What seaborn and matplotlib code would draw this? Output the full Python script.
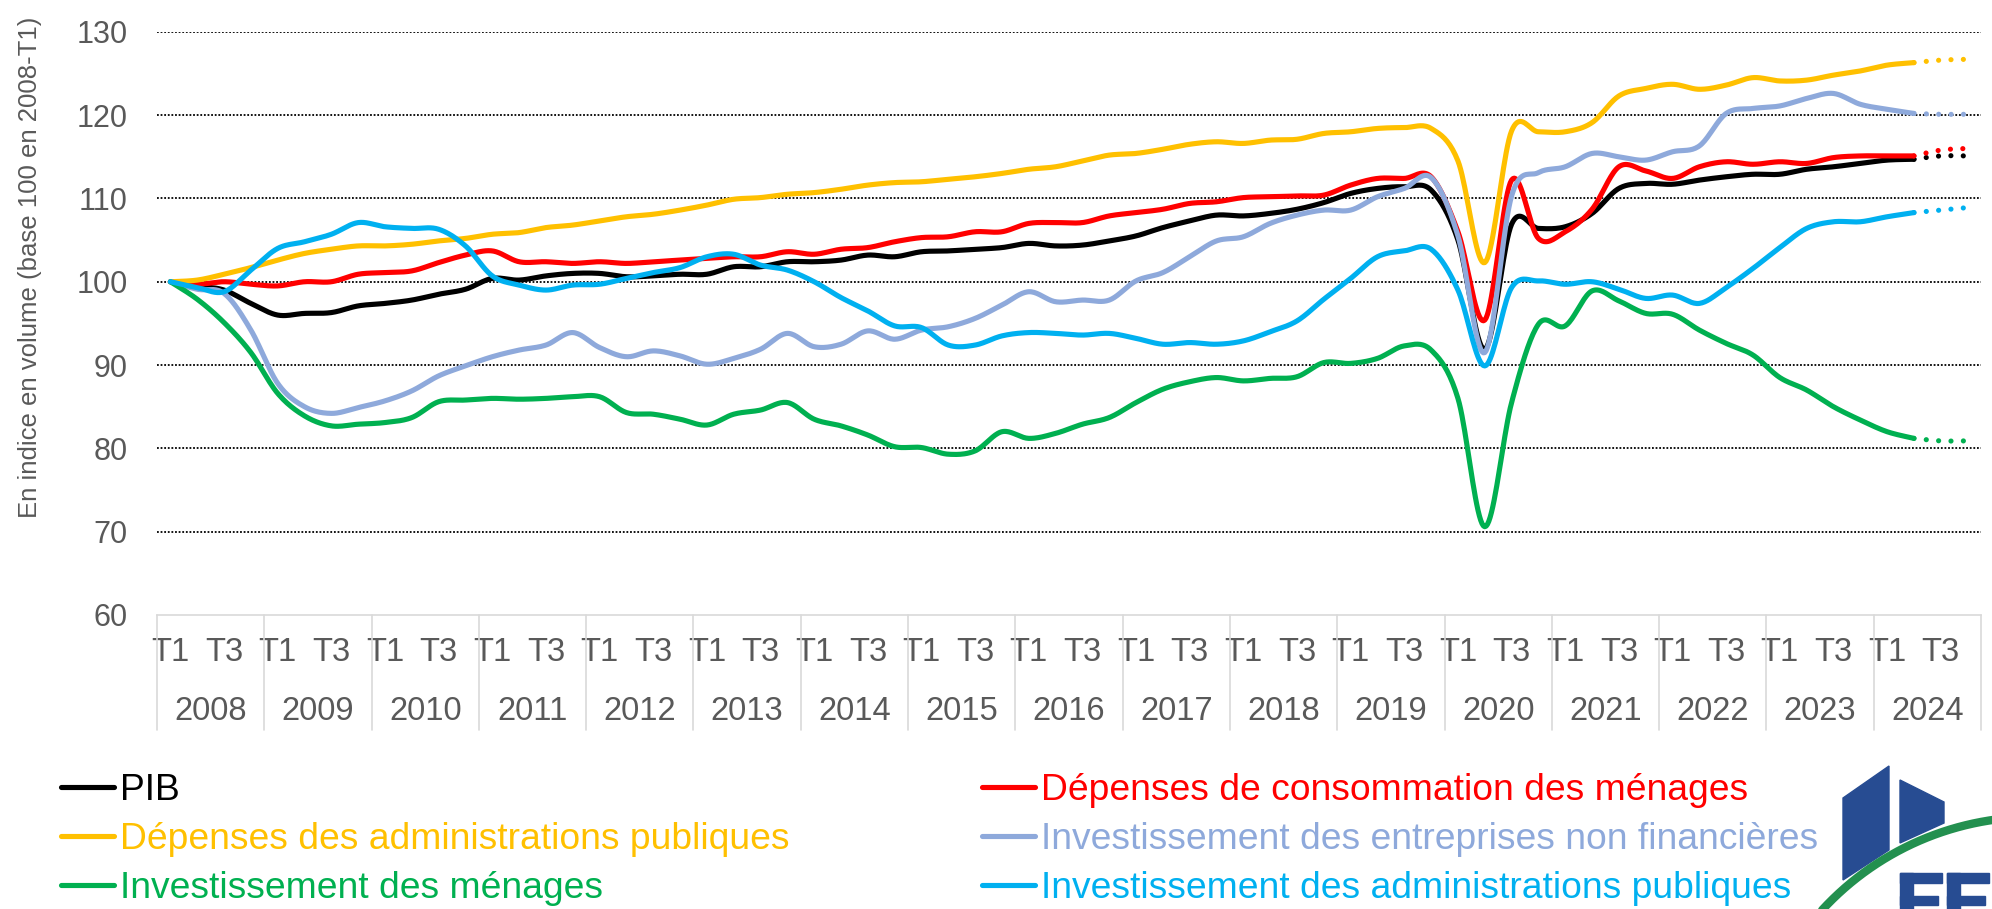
import numpy as np
import pandas as pd
import matplotlib
matplotlib.use("Agg")
import matplotlib.pyplot as plt
from matplotlib.lines import Line2D
from matplotlib.patches import Polygon, Rectangle
import seaborn as sns

# ---------------- data ----------------
years = list(range(2008, 2025))
quarters = ["T1", "T2", "T3", "T4"]
last_observed = 65  # index of 2024-T2 ; T3/T4 are projections (dotted)

pib = [100.0, 99.5, 99.0, 97.4, 96.0, 96.2, 96.3, 97.1, 97.4, 97.8, 98.5, 99.1,
       100.4, 100.2, 100.7, 101.0, 101.0, 100.6, 100.7, 100.9, 100.9, 101.8, 101.8, 102.4,
       102.4, 102.6, 103.2, 103.0, 103.6, 103.7, 103.9, 104.1, 104.6, 104.3, 104.4, 104.9,
       105.5, 106.5, 107.3, 108.0, 107.9, 108.2, 108.7, 109.5, 110.6, 111.2, 111.4, 111.0,
       105.0, 91.9, 106.9, 106.4, 106.6, 108.2, 111.2, 111.8, 111.7, 112.2, 112.6, 112.9,
       112.9, 113.5, 113.8, 114.2, 114.6, 114.7, 115.1, 115.1]
conso_menages = [100.0, 99.7, 100.0, 99.7, 99.5, 100.0, 100.0, 100.9, 101.1, 101.3, 102.3, 103.2,
                 103.7, 102.4, 102.4, 102.2, 102.4, 102.2, 102.4, 102.6, 102.8, 103.0, 103.0, 103.6,
                 103.3, 103.9, 104.1, 104.8, 105.3, 105.4, 106.0, 106.0, 107.0, 107.1, 107.1, 107.9,
                 108.3, 108.7, 109.4, 109.6, 110.1, 110.2, 110.3, 110.4, 111.6, 112.4, 112.4, 112.6,
                 106.0, 95.4, 112.2, 105.2, 106.0, 108.7, 113.8, 113.3, 112.4, 113.8, 114.4, 114.1,
                 114.4, 114.2, 114.9, 115.1, 115.1, 115.1, 115.8, 116.0]
depenses_apu = [100.0, 100.2, 100.9, 101.7, 102.6, 103.4, 103.9, 104.3, 104.3, 104.5, 104.9, 105.2,
                105.7, 105.9, 106.5, 106.8, 107.3, 107.8, 108.1, 108.6, 109.2, 109.9, 110.1, 110.5,
                110.7, 111.1, 111.6, 111.9, 112.0, 112.3, 112.6, 113.0, 113.5, 113.8, 114.5, 115.2,
                115.4, 115.9, 116.5, 116.8, 116.6, 117.0, 117.1, 117.8, 118.0, 118.4, 118.5, 118.4,
                114.5, 102.3, 118.1, 118.0, 118.0, 119.1, 122.3, 123.2, 123.7, 123.1, 123.6, 124.5,
                124.1, 124.2, 124.8, 125.3, 126.0, 126.3, 126.6, 126.7]
invest_enf = [100.0, 99.1, 98.6, 94.2, 87.8, 85.0, 84.2, 84.9, 85.7, 86.9, 88.7, 89.9,
              91.0, 91.8, 92.4, 93.9, 92.1, 91.0, 91.7, 91.1, 90.1, 90.8, 91.9, 93.8,
              92.2, 92.5, 94.1, 93.1, 94.2, 94.6, 95.6, 97.2, 98.8, 97.6, 97.8, 97.8,
              100.1, 101.1, 103.0, 104.9, 105.4, 107.0, 108.0, 108.6, 108.6, 110.2, 111.2, 112.5,
              105.5, 91.5, 110.3, 113.1, 113.8, 115.4, 115.0, 114.6, 115.6, 116.3, 120.2, 120.8,
              121.1, 122.0, 122.6, 121.3, 120.7, 120.2, 120.1, 120.1]
invest_menages = [100.0, 97.9, 95.1, 91.5, 86.6, 83.9, 82.7, 82.9, 83.1, 83.7, 85.6, 85.8,
                  86.0, 85.9, 86.0, 86.2, 86.2, 84.3, 84.1, 83.5, 82.8, 84.1, 84.6, 85.5,
                  83.5, 82.7, 81.6, 80.2, 80.1, 79.3, 79.7, 82.0, 81.2, 81.8, 82.9, 83.7,
                  85.5, 87.1, 88.0, 88.5, 88.1, 88.4, 88.6, 90.3, 90.2, 90.8, 92.3, 91.8,
                  86.0, 70.6, 85.5, 94.9, 94.7, 98.9, 97.7, 96.2, 96.1, 94.2, 92.6, 91.2,
                  88.5, 87.0, 85.0, 83.4, 82.0, 81.2, 80.9, 80.9]
invest_apu = [100.0, 99.3, 98.8, 101.4, 104.0, 104.8, 105.7, 107.1, 106.6, 106.4, 106.3, 104.3,
              100.7, 99.6, 99.0, 99.6, 99.7, 100.4, 101.1, 101.7, 103.0, 103.3, 102.0, 101.4,
              100.0, 98.1, 96.5, 94.7, 94.5, 92.4, 92.4, 93.5, 93.9, 93.8, 93.6, 93.8,
              93.2, 92.5, 92.7, 92.5, 92.9, 94.0, 95.3, 97.9, 100.4, 103.0, 103.7, 103.9,
              99.0, 89.9, 99.3, 100.1, 99.7, 100.0, 99.1, 98.0, 98.4, 97.4, 99.3, 101.6,
              104.1, 106.4, 107.2, 107.2, 107.8, 108.3, 108.6, 108.9]

series_names = ["PIB",
                "Dépenses de consommation des ménages",
                "Dépenses des administrations publiques",
                "Investissement des entreprises non financières",
                "Investissement des ménages",
                "Investissement des administrations publiques"]
series_values = [pib, conso_menages, depenses_apu, invest_enf, invest_menages, invest_apu]
series_colors = ["#000000", "#FF0000", "#FFC000", "#8EA9DB", "#00B050", "#00B0F0"]

y_ticks = [60, 70, 80, 90, 100, 110, 120, 130]
y_label = "En indice en volume (base 100 en 2008-T1)"

# ---------------- helpers ----------------
def smooth(x, y, n=20):
    """Excel-like smoothed line (cubic Bezier through each data point)."""
    pts = np.column_stack([x, y]).astype(float)
    P = np.vstack([pts[0], pts, pts[-1]])
    t = np.linspace(0, 1, n, endpoint=False)[:, None]
    out = []
    for i in range(1, len(P) - 2):
        p0, p1, p2, p3 = P[i - 1], P[i], P[i + 1], P[i + 2]
        c1 = p1 + (p2 - p0) / 6.0
        c2 = p2 - (p3 - p1) / 6.0
        out.append((1 - t) ** 3 * p1 + 3 * (1 - t) ** 2 * t * c1
                   + 3 * (1 - t) * t ** 2 * c2 + t ** 3 * p2)
    out.append(pts[-1][None, :])
    return np.vstack(out)

# ---------------- figure ----------------
sns.set_theme(style="white")
plt.rcParams["font.family"] = ["Liberation Sans", "DejaVu Sans"]

W, H = 1992, 909
fig = plt.figure(figsize=(W / 100, H / 100), dpi=100)
x_left, x_right, y_top, y_bot = 157, 1981, 31.8, 615
ax = fig.add_axes([x_left / W, 1 - y_bot / H, (x_right - x_left) / W, (y_bot - y_top) / H])

labels_q = [f"{q}" for yv in years for q in quarters]
n = len(labels_q)
x_idx = np.arange(n)

lw = 3.7
for name, vals, col in zip(series_names, series_values, series_colors):
    vals = np.asarray(vals)
    solid = smooth(x_idx[:last_observed + 1], vals[:last_observed + 1])
    sns.lineplot(x=solid[:, 0], y=solid[:, 1], sort=False, estimator=None, ax=ax,
                 color=col, linewidth=lw, legend=False, solid_capstyle="round")
    proj = smooth(x_idx[last_observed:], vals[last_observed:])
    sns.lineplot(x=proj[:, 0], y=proj[:, 1], sort=False, estimator=None, ax=ax,
                 color=col, linewidth=lw, legend=False,
                 linestyle=(0, (0.01, 2.4)), dash_capstyle="round")

ax.set_xlim(-0.5, n - 0.5)
ax.set_ylim(y_ticks[0], y_ticks[-1])
ax.set_yticks(y_ticks)
ax.set_yticklabels([str(v) for v in y_ticks])

# gridlines (dotted black), none on the base line
for v in y_ticks[1:]:
    ax.axhline(v, color="black", lw=1.3, linestyle=(0, (1, 1)), zorder=0)

for s in ["left", "right", "top"]:
    ax.spines[s].set_visible(False)
ax.spines["bottom"].set_color("#D9D9D9")
ax.spines["bottom"].set_linewidth(1.2)

ax.tick_params(axis="y", length=0, pad=21, labelsize=22, labelcolor="#595959")
tick_pos = [i for i, q in enumerate(labels_q) if q in ("T1", "T3")]
ax.set_xticks(tick_pos)
ax.set_xticklabels([labels_q[i] for i in tick_pos])
ax.tick_params(axis="x", which="major", length=0, pad=16, labelsize=23.5, labelcolor="#595959")
ax.set_xticks(np.arange(-0.5, n, 1.0), minor=True)
ax.tick_params(axis="x", which="minor", length=3.6, width=1.0, color="#D9D9D9", direction="out")
ax.set_ylabel("")
ax.set_xlabel("")
ax.grid(False)

# year level of the category axis
xt = ax.get_xaxis_transform()
for k, yv in enumerate(years):
    ax.text(4 * k + 1.5, -0.166, str(yv), transform=xt, ha="center", va="center",
            fontsize=23.5, color="#595959")
for k in range(len(years) + 1):
    ax.plot([4 * k - 0.5, 4 * k - 0.5], [0, -0.197], transform=xt, color="#D9D9D9",
            lw=1.2, clip_on=False)

fig.text(30 / W, 1 - 267 / H, y_label, rotation=90, ha="center", va="center",
         fontsize=18.5, color="#595959")

# legend (column-first order, two columns)
order = [0, 2, 4, 1, 3, 5]
handles = [Line2D([0], [0], color=series_colors[i], lw=3.7) for i in order]
labs = [series_names[i] for i in order]
leg = fig.legend(handles, labs, ncol=2, loc="upper left",
                 bbox_to_anchor=(61 / W, 1 - 773 / H), frameon=False,
                 fontsize=26.8, handlelength=1.42, handletextpad=0.17,
                 columnspacing=5.17, labelspacing=0.38, borderpad=0, borderaxespad=0)
for t, i in zip(leg.get_texts(), order):
    t.set_color(series_colors[i])

# logo (bottom right corner)
lax = fig.add_axes([0, 0, 1, 1], zorder=5)
lax.set_xlim(0, W)
lax.set_ylim(H, 0)
lax.axis("off")
lax.patch.set_alpha(0)
blue = "#274C92"
lax.add_patch(Polygon([(1843, 798), (1889, 766), (1889, 850), (1843, 880)], closed=True, color=blue))
lax.add_patch(Polygon([(1900, 780), (1944, 802), (1944, 823), (1900, 843)], closed=True, color=blue))
th = np.radians(np.linspace(-150, -70, 200))
cx, cy, r = 2033.9, 1104.6, 287.6
lax.plot(cx + r * np.cos(th), cy + r * np.sin(th), color="#23904F", lw=6)
for x0 in (1900, 1947):
    lax.add_patch(Rectangle((x0, 873), 13, 40, color=blue))
    lax.add_patch(Rectangle((x0, 873), 42, 10, color=blue))
    lax.add_patch(Rectangle((x0, 896), 38, 9, color=blue))

fig.savefig("out.png", dpi=100)
